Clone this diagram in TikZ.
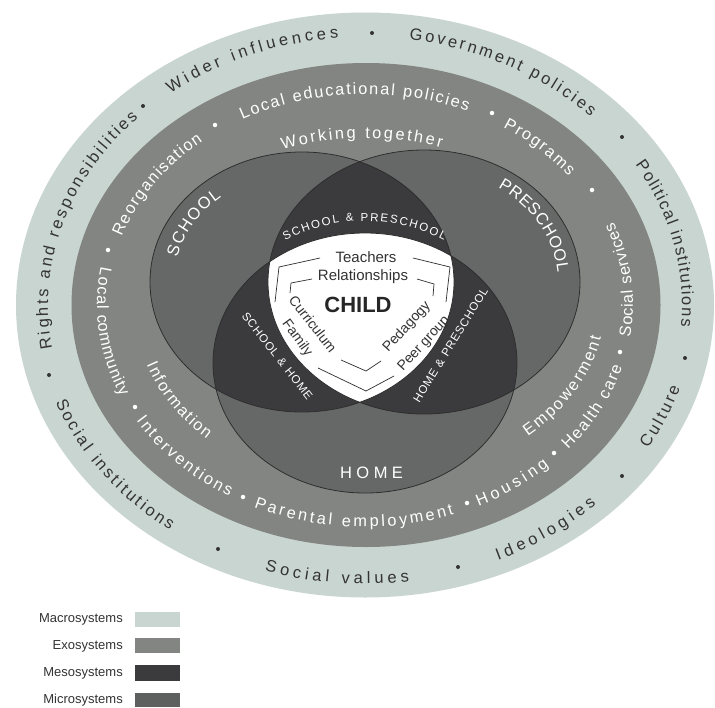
\documentclass[tikz,border=0pt]{standalone}
\usepackage{fontspec}
\setmainfont{Liberation Sans}
\usetikzlibrary{decorations.text}
\definecolor{macroc}{HTML}{C9D5D0}
\definecolor{exoc}{HTML}{838583}
\definecolor{mesoc}{HTML}{3B3B3D}
\definecolor{microc}{HTML}{666867}
\definecolor{inkc}{HTML}{333333}
\definecolor{linec}{HTML}{2E2E2E}
\newcommand\macfont{\fontsize{16.5}{16.5}\selectfont\color{inkc}}
\newcommand\exofont{\fontsize{16.3}{16.3}\selectfont\color{white}}
\newcommand\micfont{\fontsize{16.5}{16.5}\selectfont\color{white}}
\newcommand\mesfont{\fontsize{11.5}{11.5}\selectfont\color{white}}
\tikzset{
  curved/.style 2 args={decorate, decoration={text along path, text={|#1|#2}, text align=fit to path}},
  mdot/.style={circle, fill=inkc, inner sep=0pt, minimum size=4pt},
  edot/.style={circle, fill=white, inner sep=0pt, minimum size=4.5pt},
  rim/.style={draw=linec, line width=0.8pt},
  bracket/.style={draw=linec, line width=0.7pt, line join=round},
  childtxt/.style={text=inkc, font=\fontsize{15}{15}\selectfont, inner sep=0pt},
  sidetxt/.style={text=inkc, font=\fontsize{14}{14}\selectfont, inner sep=0pt},
  legtxt/.style={text=inkc, font=\fontsize{13}{13}\selectfont, anchor=east, inner sep=0pt},
}
\newcommand\schoolE{(302,-282) ellipse [x radius=152pt, y radius=130pt]}
\begin{document}
\begin{tikzpicture}[x=1pt, y=1pt]
\useasboundingbox (0,0) rectangle (715,-707);
\fill[white] (0,0) rectangle (715,-707);

% rings
\fill[macroc] (365,-305) ellipse [x radius=349pt, y radius=292.5pt];
\fill[exoc] (366,-305) ellipse [x radius=294.5pt, y radius=242pt];

% microsystems
\fill[microc] (302,-282) ellipse [x radius=152pt, y radius=130pt];
\fill[microc] (424,-282) ellipse [x radius=156pt, y radius=132pt];
\fill[microc] (365,-363) ellipse [x radius=152pt, y radius=130pt];

% mesosystems
\begin{scope}
  \clip (302,-282) ellipse [x radius=152pt, y radius=130pt];
  \fill[mesoc] (424,-282) ellipse [x radius=156pt, y radius=132pt];
  \fill[mesoc] (365,-363) ellipse [x radius=152pt, y radius=130pt];
\end{scope}
\begin{scope}
  \clip (424,-282) ellipse [x radius=156pt, y radius=132pt];
  \fill[mesoc] (365,-363) ellipse [x radius=152pt, y radius=130pt];
\end{scope}
% child
\begin{scope}
  \clip (302,-282) ellipse [x radius=152pt, y radius=130pt];
  \clip (424,-282) ellipse [x radius=156pt, y radius=132pt];
  \fill[white] (365,-363) ellipse [x radius=152pt, y radius=130pt];
\end{scope}
\draw[rim] (302,-282) ellipse [x radius=152pt, y radius=130pt];
\draw[rim] (424,-282) ellipse [x radius=156pt, y radius=132pt];
\draw[rim] (365,-363) ellipse [x radius=152pt, y radius=130pt];

% macro ring texts
\begin{scope}[shift={(365,-305)}]
\path[curved={\macfont}{Rights and responsibilities}] (189.3:317pt and 268pt) arc[start angle=189.3, end angle=135.7, x radius=317pt, y radius=268pt];
\path[curved={\macfont}{Wider influences}] (127.8:317pt and 268pt) arc[start angle=127.8, end angle=94.8, x radius=317pt, y radius=268pt];
\path[curved={\macfont}{Government policies}] (82:317pt and 268pt) arc[start angle=82, end angle=44.6, x radius=317pt, y radius=268pt];
\path[curved={\macfont}{Political institutions}] (31.5:317pt and 268pt) arc[start angle=31.5, end angle=-4.6, x radius=317pt, y radius=268pt];
\path[curved={\macfont}{Culture}] (-31:330pt and 279pt) arc[start angle=-31, end angle=-17.2, x radius=330pt, y radius=279pt];
\path[curved={\macfont}{Ideologies}] (-66.2:330pt and 279pt) arc[start angle=-66.2, end angle=-45.5, x radius=330pt, y radius=279pt];
\path[curved={\macfont}{Social values}] (-107.7:330pt and 279pt) arc[start angle=-107.7, end angle=-82.3, x radius=330pt, y radius=279pt];
\path[curved={\macfont}{Social institutions}] (-159.6:330pt and 279pt) arc[start angle=-159.6, end angle=-126.2, x radius=330pt, y radius=279pt];

% exo ring texts
\path[curved={\exofont}{Reorganisation}] (161.2:257pt and 211pt) arc[start angle=161.2, end angle=129.1, x radius=257pt, y radius=211pt];
\path[curved={\exofont}{Local educational policies}] (118.5:257pt and 211pt) arc[start angle=118.5, end angle=66.5, x radius=257pt, y radius=211pt];
\path[curved={\exofont}{Programs}] (57.5:257pt and 211pt) arc[start angle=57.5, end angle=37.5, x radius=257pt, y radius=211pt];
\path[curved={\exofont}{Social services}] (-8.4:268pt and 222pt) arc[start angle=-8.4, end angle=22, x radius=268pt, y radius=222pt];
\path[curved={\exofont}{Health care}] (-40.7:268pt and 222pt) arc[start angle=-40.7, end angle=-16.2, x radius=268pt, y radius=222pt];
\path[curved={\exofont}{Housing}] (-64.9:268pt and 222pt) arc[start angle=-64.9, end angle=-46.6, x radius=268pt, y radius=222pt];
\path[curved={\exofont}{Parental employment}] (-114.5:268pt and 222pt) arc[start angle=-114.5, end angle=-70.6, x radius=268pt, y radius=222pt];
\path[curved={\exofont}{Interventions}] (-148.6:268pt and 222pt) arc[start angle=-148.6, end angle=-120.4, x radius=268pt, y radius=222pt];
\path[curved={\exofont}{Local community}] (170.1:268pt and 222pt) arc[start angle=170.1, end angle=204.3, x radius=268pt, y radius=222pt];

% inner exo texts
\path[curved={\exofont}{Working together}] (111.5:225pt and 167pt) arc[start angle=111.5, end angle=70.2, x radius=225pt, y radius=167pt];
\path[curved={\exofont}{Information}] (-161:231pt and 184pt) arc[start angle=-161, end angle=-133.2, x radius=231pt, y radius=184pt];
\path[curved={\exofont}{Empowerment}] (-47.3:240pt and 179pt) arc[start angle=-47.3, end angle=-10.4, x radius=240pt, y radius=179pt];
\end{scope}

% micro labels
\begin{scope}[shift={(302,-282)}]
\path[curved={\micfont}{SCHOOL}] (167:128pt and 109.5pt) arc[start angle=167, end angle=129, x radius=128pt, y radius=109.5pt];
\end{scope}
\begin{scope}[shift={(424,-282)}]
\path[curved={\micfont}{PRESCHOOL}] (56.5:134pt and 113pt) arc[start angle=56.5, end angle=4.7, x radius=134pt, y radius=113pt];
\end{scope}
\path[curved={\micfont}{HOME}] (340,-478) -- (403,-478);

% meso labels
\begin{scope}[shift={(364.5,-393)}]
\path[curved={\mesfont}{SCHOOL {\&} PRESCHOOL}] (117.5:172pt) arc[start angle=117.5, end angle=62.5, radius=172pt];
\end{scope}
\path[curved={\mesfont}{SCHOOL {\&} HOME}] (241.4,-316.3) -- (307.3,-400.6);
\path[curved={\mesfont}{HOME {\&} PRESCHOOL}] (419.3,-403.5) -- (488.5,-290.7);

% bullets macro
\node[mdot] (bm1) at (143,-106) {};
\node[mdot] (bm2) at (372,-33) {};
\node[mdot] (bm3) at (622,-137) {};
\node[mdot] (bm4) at (685,-358) {};
\node[mdot] (bm5) at (622,-476) {};
\node[mdot] (bm6) at (458,-567) {};
\node[mdot] (bm7) at (218,-549) {};
\node[mdot] (bm8) at (49,-375) {};
% bullets exo
\node[edot] (be1) at (215,-125) {};
\node[edot] (be2) at (492,-113) {};
\node[edot] (be3) at (592,-190) {};
\node[edot] (be4) at (620,-352) {};
\node[edot] (be5) at (554,-453) {};
\node[edot] (be6) at (467,-503) {};
\node[edot] (be7) at (243,-497) {};
\node[edot] (be8) at (135,-407) {};
\node[edot] (be9) at (108,-250) {};

% child texts
\node[childtxt] (teach) at (366,-257) {Teachers};
\node[childtxt] (rel) at (363,-277) {Relationships};
\node[childtxt, font=\fontsize{22}{22}\selectfont\bfseries, text=black!85] (child) at (358,-305) {CHILD};
\node[sidetxt, rotate=-52] (curr) at (313,-324) {Curriculum};
\node[sidetxt, rotate=-54] (fam) at (297,-338) {Family};
\node[sidetxt, rotate=47.5] (ped) at (407,-327) {Pedagogy};
\node[sidetxt, rotate=47.5] (peer) at (424,-344) {Peer group};

% brackets
\draw[bracket] (320,-258) -- (279,-267) -- (275,-302);
\draw[bracket] (413,-258) -- (450,-267) -- (446,-302);
\draw[bracket] (318,-368) -- (366,-391) -- (394,-376);
\draw[bracket] (312,-279) -- (291,-283) -- (290,-293);
\draw[bracket] (417,-279) -- (434,-284) -- (433,-296);
\draw[bracket] (341,-360) -- (366,-371) -- (381,-361);

% legend
\node[legtxt] (lmac) at (123,-619.5) {Macrosystems};
\node[legtxt] (lexo) at (123,-646) {Exosystems};
\node[legtxt] (lmes) at (123,-673) {Mesosystems};
\node[legtxt] (lmic) at (123,-700) {Microsystems};
\fill[macroc] (135,-612) rectangle (180,-627);
\fill[exoc] (135,-638) rectangle (180,-653);
\fill[mesoc] (135,-665) rectangle (180,-681);
\fill[microc!92!black] (135,-693) rectangle (180,-707);
\end{tikzpicture}
\end{document}
